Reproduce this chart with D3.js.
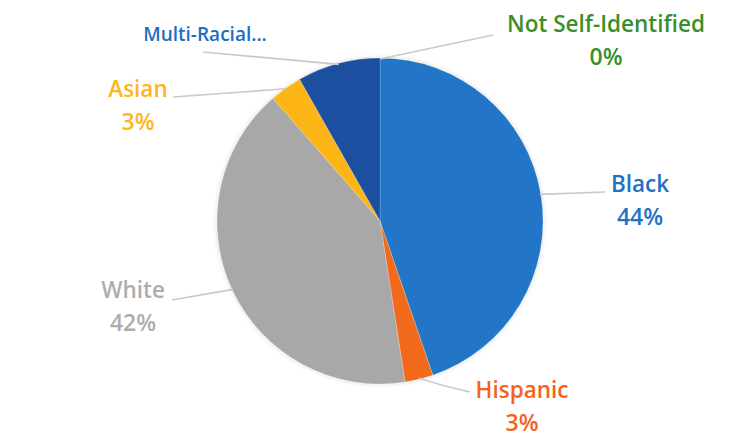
<!DOCTYPE html>
<html><head><meta charset="utf-8">
<script src="https://cdn.jsdelivr.net/npm/d3@7"></script>
<style>body{margin:0;background:#fff;}svg{display:block;}</style>
</head><body>
<script>
const categories = ["Not Self-Identified","Black","Hispanic","White","Asian","Multi-Racial..."];
const values = [0, 44.7, 2.8, 41.0, 3.2, 8.2];
const pctLabels = ["0%","44%","3%","42%","3%",""];
const sliceColors = ["#3a8f2b","#2075c7","#f26b1d","#a8a8a8","#fdb515","#1c4f9f"];
const textColors = ["#3a8f2b","#1e72c6","#f4631b","#adadad","#feb522","#1e6cc3"];

const W=744,H=439;
const svg=d3.select("body").append("svg").attr("width",W).attr("height",H);
const cx=380, cy=221, r=163;
const data=categories.map((c,i)=>({cat:c,v:values[i],pct:pctLabels[i],col:sliceColors[i],tc:textColors[i]}));
const pie=d3.pie().sort(null).value(d=>d.v);
const arcs=pie(data);
const arc=d3.arc().innerRadius(0).outerRadius(r);

const defs=svg.append("defs");
const f=defs.append("filter").attr("id","sh").attr("x","-10%").attr("y","-10%").attr("width","120%").attr("height","120%");
f.append("feDropShadow").attr("dx",0).attr("dy",0).attr("stdDeviation",2).attr("flood-color","#000").attr("flood-opacity",0.18);

const g=svg.append("g").attr("transform",`translate(${cx},${cy})`);
g.append("g").attr("filter","url(#sh)").selectAll("path").data(arcs.filter(a=>a.data.v>0)).join("path")
 .attr("d",arc).attr("fill",d=>d.data.col).attr("stroke","#ffffff").attr("stroke-opacity",0.35).attr("stroke-width",0.6);

const labelPos = {
 "Not Self-Identified":{x:606,y:32,line:[[493,35]]},
 "Black":{x:640,y:192,line:[[605,192]]},
 "Hispanic":{x:522,y:398,line:[[470,392],[445,386]]},
 "White":{x:133,y:298,line:[[172,300]]},
 "Asian":{x:138,y:97,line:[[173,97]]},
 "Multi-Racial...":{x:205,y:41,line:[[203,52]]}
};
const outer=d3.arc().innerRadius(r-1).outerRadius(r-1);
arcs.forEach(a=>{
  const p=labelPos[a.data.cat];
  const c=outer.centroid(a);
  const start=[cx+c[0],cy+c[1]];
  const pts=[start].concat(p.line.slice().reverse());
  svg.append("path").attr("d",d3.line()(pts)).attr("fill","none").attr("stroke","#c9c9c9").attr("stroke-width",1.6);
  svg.append("text").attr("x",p.x).attr("y",p.y).attr("text-anchor","middle")
   .attr("fill",a.data.tc).attr("font-family","'Open Sans', sans-serif").attr("font-weight",600)
   .attr("font-size", a.data.cat==="Multi-Racial..." ? 19 : 22.5)
   .text(a.data.cat);
  if(a.data.pct){
    svg.append("text").attr("x",p.x).attr("y",p.y+33).attr("text-anchor","middle")
     .attr("fill",a.data.tc).attr("font-family","'Open Sans', sans-serif").attr("font-weight",600)
     .attr("font-size",23).text(a.data.pct);
  }
});
</script>
</body></html>
